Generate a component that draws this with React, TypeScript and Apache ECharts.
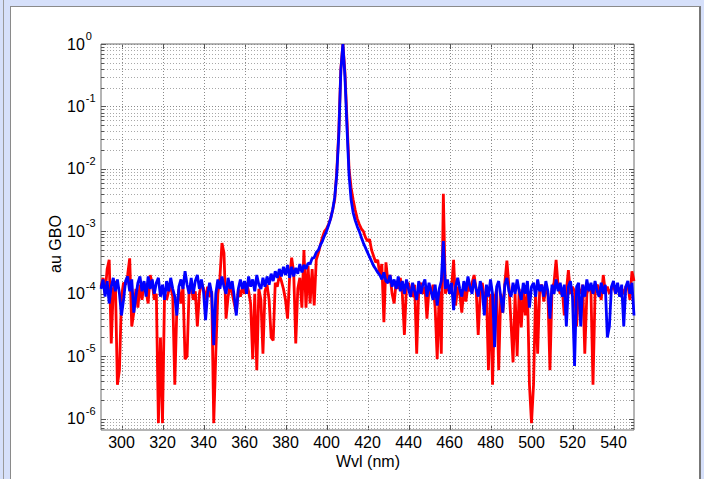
import React, { useEffect, useRef } from "react";
import * as echarts from "echarts";

// Wavelength sampling of both spectra (nm)
const WVL_START = 290;
const WVL_STEP = 1;
const X_MIN = 290;
const X_MAX = 550;
const Y_MIN = 6.6e-7;
const Y_MAX = 1;
// values below are given in units of 1e-4 (au GBO)
const UNIT = 1e-4;

// red spectrum, 290..550 nm
const RED = [
  1.3, 1.8, 1.0, 2.5, 3.5, 0.16, 1.2, 1.6, 0.035, 0.06, // 290
  0.9, 1.5, 1.4, 2.0, 3.7, 0.3, 0.5, 1.2, 0.6, 1.4, // 300
  0.8, 1.5, 1.1, 0.7, 2.0, 1.5, 0.8, 1.0, 0.0085, 0.2, // 310
  0.0085, 1.0, 0.8, 1.1, 1.3, 0.9, 0.035, 0.6, 1.2, 0.7, // 320
  1.3, 0.09, 0.1, 1.2, 1.4, 0.8, 1.1, 0.3, 1.0, 1.5, // 330
  1.2, 0.8, 1.3, 0.9, 1.1, 0.0085, 0.11, 1.0, 1.8, 6.5, // 340
  4.5, 0.4, 0.9, 1.4, 1.0, 0.7, 0.5, 1.2, 0.9, 1.3, // 350
  1.0, 1.5, 1.1, 0.7, 0.09, 1.0, 0.06, 1.2, 0.8, 0.11, // 360
  1.1, 1.4, 0.8, 0.2, 0.18, 1.5, 1.3, 2.0, 1.6, 1.2, // 370
  0.8, 0.4, 1.8, 3.8, 2.2, 0.16, 1.2, 1.8, 0.6, 5.0, // 380
  0.6, 2.8, 0.7, 2.5, 0.65, 3.5, 4.5, 6.0, 8.0, 10, // 390
  11, 13, 16, 22, 32, 90, 400, 4000, 10000, 3500, // 400
  600, 100, 50, 32, 22, 16, 13, 11, 10, 8, // 410
  7, 7.5, 5, 4, 3.2, 3.5, 2.0, 3.0, 0.35, 3.2, // 420
  1.5, 2.0, 1.0, 0.7, 1.6, 1.2, 1.8, 1.0, 0.22, 1.3, // 430
  1.5, 1.1, 0.9, 1.4, 0.11, 1.2, 1.5, 1.0, 1.3, 0.4, // 440
  1.2, 1.0, 1.4, 0.6, 0.09, 1.1, 0.11, 40, 1.0, 1.5, // 450
  1.0, 1.2, 3.5, 0.65, 1.3, 1.0, 0.5, 1.2, 0.75, 1.4, // 460
  1.1, 1.5, 2.0, 1.2, 0.22, 1.0, 1.5, 0.8, 1.1, 0.06, // 470
  1.0, 0.035, 0.8, 1.2, 0.06, 1.0, 0.5, 1.5, 3.4, 1.3, // 480
  0.35, 0.08, 1.0, 0.1, 1.2, 0.29, 1.1, 0.45, 1.3, 0.035, // 490
  0.0085, 0.035, 1.1, 0.11, 1.2, 1.4, 0.75, 1.2, 1.0, 0.06, // 500
  1.2, 1.5, 3.5, 1.3, 1.0, 1.2, 0.45, 1.1, 2.4, 1.0, // 510
  1.3, 1.1, 0.3, 1.2, 1.0, 1.4, 0.11, 1.0, 1.3, 1.1, // 520
  0.035, 1.0, 1.4, 1.2, 0.8, 2.0, 1.1, 1.3, 1.0, 1.2, // 530
  1.4, 1.0, 1.3, 1.1, 1.2, 1.0, 1.3, 1.4, 0.8, 2.3, // 540
  1.6, // 550
];

// blue spectrum, 290..550 nm
const BLUE = [
  1.2, 1.7, 0.9, 1.6, 0.7, 1.3, 1.8, 1.1, 1.7, 1.0, // 290
  0.45, 0.8, 1.6, 1.9, 1.1, 1.7, 0.5, 0.9, 1.5, 1.9, // 300
  1.1, 1.6, 0.9, 1.9, 1.2, 1.7, 1.0, 1.5, 1.8, 0.9, // 310
  1.4, 0.8, 1.6, 1.1, 1.8, 1.2, 0.9, 0.45, 1.3, 1.7, // 320
  1.2, 2.3, 1.4, 1.0, 1.8, 1.0, 1.6, 2.0, 1.2, 1.7, // 330
  1.1, 0.38, 1.0, 1.5, 1.0, 0.15, 1.0, 1.7, 1.2, 1.9, // 340
  1.3, 1.0, 1.8, 1.2, 1.6, 0.9, 0.45, 1.2, 1.7, 1.2, // 350
  1.6, 1.0, 1.9, 1.3, 1.7, 1.1, 2.0, 1.4, 1.2, 1.8, // 360
  1.3, 1.9, 1.4, 2.1, 1.6, 2.3, 1.8, 2.5, 1.9, 2.7, // 370
  2.0, 2.9, 1.8, 2.7, 1.9, 2.6, 2.1, 3.0, 2.2, 2.9, // 380
  2.5, 3.1, 3.0, 3.7, 3.8, 4.6, 5.0, 6.0, 7.0, 8.5, // 390
  10, 12.5, 16, 22, 35, 80, 350, 3800, 10000, 3000, // 400
  450, 80, 32, 20, 15, 12, 10, 8, 6.5, 5.5, // 410
  4.6, 3.9, 3.3, 2.8, 2.5, 2.2, 2.0, 1.7, 2.2, 1.6, // 420
  1.5, 2.0, 1.3, 1.7, 1.2, 1.9, 1.1, 1.6, 1.0, 1.7, // 430
  1.2, 0.9, 1.5, 1.1, 0.8, 1.6, 1.0, 1.4, 1.7, 0.9, // 440
  1.5, 1.1, 0.8, 1.4, 0.65, 1.2, 1.6, 7.0, 1.2, 1.7, // 450
  1.0, 1.5, 0.55, 1.3, 1.8, 1.2, 0.9, 1.6, 1.1, 1.9, // 460
  1.3, 1.0, 1.7, 1.2, 0.9, 1.6, 1.1, 0.45, 1.4, 0.9, // 470
  1.7, 1.0, 0.14, 1.3, 1.6, 0.9, 0.5, 1.4, 1.8, 1.1, // 480
  0.9, 1.5, 1.0, 1.7, 1.1, 0.8, 1.5, 1.0, 1.6, 0.6, // 490
  1.3, 1.5, 0.9, 1.7, 1.1, 1.4, 0.9, 1.6, 1.1, 0.4, // 500
  1.4, 1.0, 1.7, 1.1, 1.5, 0.9, 1.4, 0.3, 1.3, 1.6, // 510
  0.9, 0.07, 1.3, 1.5, 0.3, 1.4, 0.9, 1.7, 1.1, 1.5, // 520
  1.0, 1.6, 1.1, 0.9, 1.5, 1.0, 1.4, 0.2, 0.3, 1.3, // 530
  1.6, 1.0, 1.5, 0.9, 1.4, 0.3, 1.3, 1.6, 1.0, 1.5, // 540
  0.45, // 550
];

const X_TICKS = [300, 320, 340, 360, 380, 400, 420, 440, 460, 480, 500, 520, 540];
const Y_DECADES = [1e-7, 1e-6, 1e-5, 1e-4, 1e-3, 1e-2, 1e-1, 1];
const MINOR_FACTORS = [2, 3, 4, 5, 6, 7, 8, 9];

const FONT = "'Liberation Sans', Arial, Helvetica, sans-serif";

export default function App() {
  const ref = useRef<HTMLDivElement>(null);

  useEffect(() => {
    if (!ref.current) return;
    const chart = echarts.init(ref.current, undefined, { renderer: "svg" });

    const redData = RED.map((v, i) => [WVL_START + i * WVL_STEP, v * UNIT]);
    const blueData = BLUE.map((v, i) => [WVL_START + i * WVL_STEP, v * UNIT]);

    const yGrid: number[][] = [];
    Y_DECADES.forEach((d) => {
      if (d >= Y_MIN && d <= Y_MAX) yGrid.push([X_MIN, d, 1]);
      MINOR_FACTORS.forEach((f) => {
        const v = d * f;
        if (v > Y_MIN && v < Y_MAX) yGrid.push([X_MIN, v, 0]);
      });
    });

    const option: any = {
      animation: false,
      textStyle: { fontFamily: FONT },
      grid: {
        left: 101,
        right: 70,
        top: 44,
        bottom: 49,
        show: true,
        borderColor: "#6a6a6a",
        borderWidth: 1,
        backgroundColor: "transparent",
      },
      xAxis: {
        type: "value",
        min: X_MIN,
        max: X_MAX,
        interval: 10,
        axisLine: { show: false },
        axisTick: { show: false },
        splitLine: { show: false },
        axisLabel: {
          margin: 4,
          fontSize: 16,
          color: "#000",
          fontFamily: FONT,
          formatter: (v: number) => (X_TICKS.indexOf(Math.round(v)) >= 0 ? String(Math.round(v)) : ""),
        },
      },
      yAxis: {
        type: "log",
        logBase: 10,
        min: Y_MIN,
        max: Y_MAX,
        axisLine: { show: false },
        axisTick: { show: false },
        splitLine: { show: false },
        axisLabel: {
          align: "left",
          margin: 34,
          color: "#000",
          fontFamily: FONT,
          formatter: (v: number) => {
            const e = Math.log10(v);
            const r = Math.round(e);
            if (Math.abs(e - r) > 1e-6) return "";
            return `{b|10}{s|${r}}`;
          },
          rich: {
            b: { fontSize: 16, fontFamily: FONT, color: "#000" },
            s: { fontSize: 11, fontFamily: FONT, color: "#000", padding: [0, 0, 16, 1] },
          },
        },
      },
      graphic: [
        {
          type: "text",
          x: 55,
          y: 244,
          rotation: Math.PI / 2,
          style: {
            text: "au GBO",
            fontSize: 16,
            fontFamily: FONT,
            fill: "#000",
            align: "center",
            verticalAlign: "middle",
          },
        },
        {
          type: "text",
          x: 368,
          y: 461,
          style: {
            text: "Wvl (nm)",
            fontSize: 16,
            fontFamily: FONT,
            fill: "#000",
            align: "center",
            verticalAlign: "middle",
          },
        },
      ],
      series: [
        {
          type: "custom",
          silent: true,
          z: 1,
          clip: false,
          data: X_TICKS.map((v) => [v, Y_MAX]),
          renderItem: (params: any, api: any) => {
            const cs = params.coordSys;
            const x = Math.round(api.coord([api.value(0), Y_MAX])[0]) + 0.5;
            const top = cs.y;
            const bottom = cs.y + cs.height;
            return {
              type: "group",
              children: [
                { type: "line", shape: { x1: x, y1: top, x2: x, y2: bottom }, style: { stroke: "#8a8a8a", lineWidth: 1, lineDash: [1, 2] } },
                { type: "line", shape: { x1: x, y1: bottom, x2: x, y2: bottom - 5 }, style: { stroke: "#555", lineWidth: 1 } },
                { type: "line", shape: { x1: x, y1: top, x2: x, y2: top + 5 }, style: { stroke: "#555", lineWidth: 1 } },
              ],
            };
          },
        },
        {
          type: "custom",
          silent: true,
          z: 1,
          clip: false,
          data: yGrid,
          renderItem: (params: any, api: any) => {
            const cs = params.coordSys;
            const y = Math.round(api.coord([X_MIN, api.value(1)])[1]) + 0.5;
            const major = api.value(2) === 1;
            const left = cs.x;
            const right = cs.x + cs.width;
            const t = major ? 5 : 3;
            return {
              type: "group",
              children: [
                { type: "line", shape: { x1: left, y1: y, x2: right, y2: y }, style: { stroke: major ? "#8a8a8a" : "#a8a8a8", lineWidth: 1, lineDash: [1, 2] } },
                { type: "line", shape: { x1: left, y1: y, x2: left + t, y2: y }, style: { stroke: "#555", lineWidth: 1 } },
                { type: "line", shape: { x1: right - t, y1: y, x2: right, y2: y }, style: { stroke: "#555", lineWidth: 1 } },
              ],
            };
          },
        },
        {
          type: "line",
          name: "red",
          z: 2,
          data: redData,
          showSymbol: false,
          symbol: "none",
          silent: true,
          lineStyle: { color: "#ff0000", width: 2.8 },
          itemStyle: { color: "#ff0000" },
        },
        {
          type: "line",
          name: "blue",
          z: 3,
          data: blueData,
          showSymbol: false,
          symbol: "none",
          silent: true,
          lineStyle: { color: "#0000ff", width: 2.8 },
          itemStyle: { color: "#0000ff" },
        },
      ],
    };

    chart.setOption(option);
    return () => chart.dispose();
  }, []);

  return (
    <div style={{ position: "absolute", left: 0, top: 0, width: 704, height: 479, background: "#d6e0fa", overflow: "hidden" }}>
      <div style={{ position: "absolute", left: 3, top: 0, width: 1, height: 479, background: "#9a9a9a" }} />
      <div
        style={{
          position: "absolute",
          left: 10,
          top: 6,
          width: 688,
          height: 480,
          background: "#ffffff",
          borderLeft: "1px solid #8a8a8a",
          borderTop: "1px solid #8a8a8a",
          borderRight: "2px solid #777",
        }}
      />
      <div ref={ref} style={{ position: "absolute", left: 0, top: 0, width: 704, height: 479 }} />
    </div>
  );
}
